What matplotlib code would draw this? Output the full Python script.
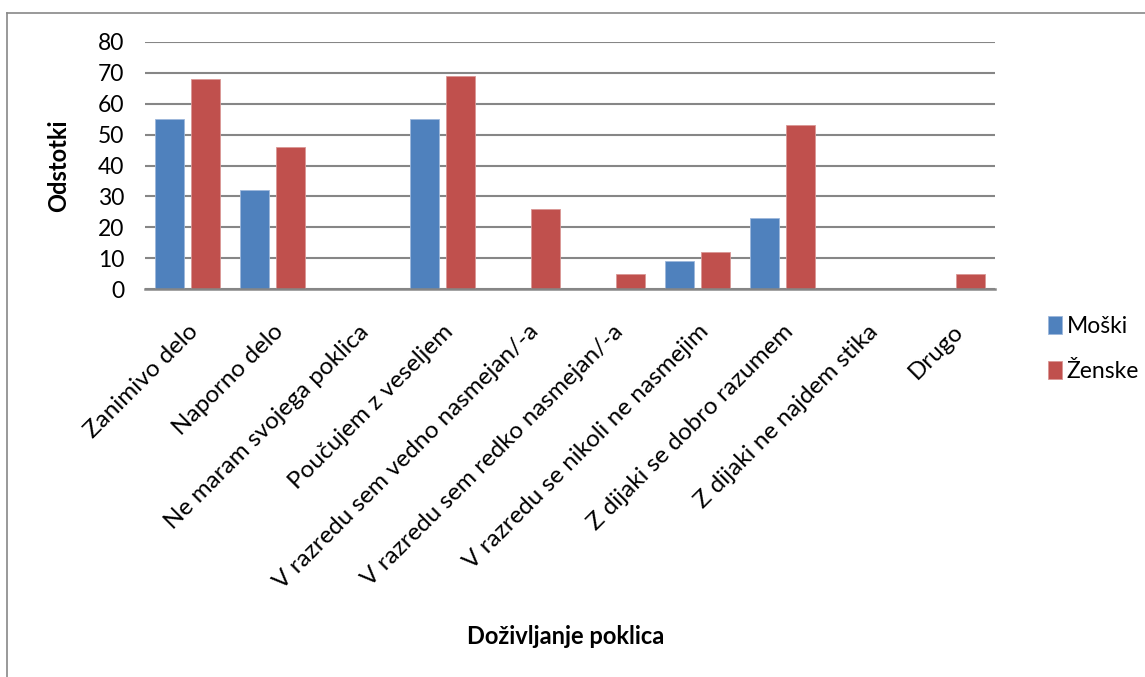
import matplotlib.pyplot as plt
from matplotlib.lines import Line2D
import numpy as np

# ── Data ──────────────────────────────────────────────────────────────────────
categories = [
    "Zanimivo delo",
    "Naporno delo",
    "Ne maram svojega poklica",
    "Poučujem z veseljem",
    "V razredu sem vedno nasmejan/-a",
    "V razredu sem redko nasmejan/-a",
    "V razredu se nikoli ne nasmejim",
    "Z dijaki se dobro razumem",
    "Z dijaki ne najdem stika",
    "Drugo",
]
moski = [55, 32, 0, 55, 0, 0, 9, 23, 0, 0]
zenske = [68, 46, 0, 69, 26, 5, 12, 53, 0, 5]
y_ticks = [0, 10, 20, 30, 40, 50, 60, 70, 80]
# ─────────────────────────────────────────────────────────────────────────────

BLUE = "#4F81BD"
RED = "#C0504D"
GRID = "#868686"

plt.rcParams["font.family"] = ["Lato", "DejaVu Sans"]

fig = plt.figure(figsize=(11.45, 6.77), dpi=100)
ax = fig.add_axes([145 / 1145, 1 - 289 / 677, 850 / 1145, 247 / 677])

x = np.arange(len(categories))
w = 0.335
ax.bar(x - 0.21, moski, w, color=BLUE, edgecolor="#9DB7DB", linewidth=0.6, label="Moški", zorder=3)
ax.bar(x + 0.21, zenske, w, color=RED, edgecolor="#DA9795", linewidth=0.6, label="Ženske", zorder=3)

ax.set_xlim(-0.5, len(categories) - 0.5)
ax.set_ylim(0, 80)
ax.set_yticks(y_ticks)
ax.yaxis.grid(True, color=GRID, linewidth=1.5, zorder=0)
ax.set_axisbelow(True)
for s in ["top", "right", "left"]:
    ax.spines[s].set_visible(False)
ax.spines["bottom"].set_color(GRID)
ax.spines["bottom"].set_linewidth(1.8)
ax.spines["bottom"].set_zorder(4)
ax.tick_params(axis="y", length=0, pad=15, labelsize=16.5)
ax.tick_params(axis="x", length=0, pad=23)

ax.set_xticks(x)
ax.set_xticklabels(categories, rotation=45, ha="right", va="top",
                   rotation_mode="anchor", fontsize=17.5)

ax.set_ylabel("Odstotki", fontsize=17, fontweight="bold")
ax.yaxis.set_label_coords(-0.088, 0.5)
fig.text(566 / 1145, 1 - 637 / 677, "Doživljanje poklica", fontsize=17,
         fontweight="bold", ha="center", va="center")

fig.legend(loc="center left", bbox_to_anchor=(1037 / 1145, 1 - 349 / 677),
           frameon=False, fontsize=16.5, handlelength=0.6, handleheight=0.85,
           handletextpad=0.2, labelspacing=1.05, borderpad=0)

# chart area border (left and top visible)
fig.add_artist(Line2D([7 / 1145, 7 / 1145], [0, 1 - 13 / 677], transform=fig.transFigure,
                      color="#888888", linewidth=1.2))
fig.add_artist(Line2D([7 / 1145, 1], [1 - 13 / 677, 1 - 13 / 677], transform=fig.transFigure,
                      color="#888888", linewidth=1.2))

fig.savefig("out.png", dpi=100)
